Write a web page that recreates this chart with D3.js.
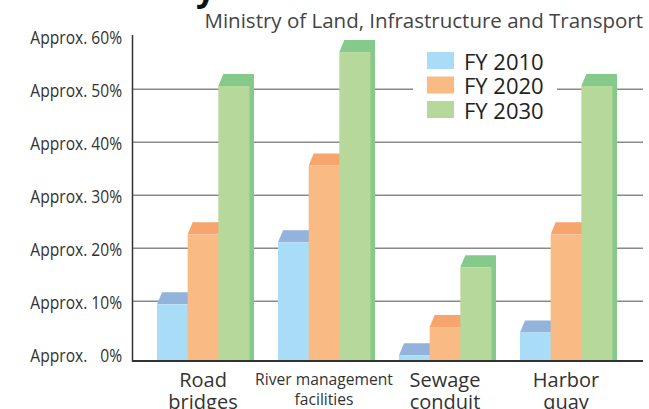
<!DOCTYPE html>
<html>
<head>
<meta charset="utf-8">
<script src="https://cdn.jsdelivr.net/npm/d3@7"></script>
<style>
  body { margin: 0; background: #fff; }
  svg { display: block; }
</style>
</head>
<body>
<script>
const categories = [["Road", "bridges"], ["River management", "facilities"], ["Sewage", "conduit"], ["Harbor", "quay"]];
const series = ["FY 2010", "FY 2020", "FY 2030"];
const values = [
  [10.6, 23.8, 51.8],
  [22.3, 36.8, 58.2],
  [1.0, 6.3, 17.6],
  [5.3, 23.8, 51.8]
];
const ticks = [0, 10, 20, 30, 40, 50, 60];

const front = ["#a9dcf7", "#f9ba84", "#b6d99b"];
const top_ = ["#93b3dc", "#f6a56d", "#85c98b"];

const svg = d3.select("body").append("svg")
  .attr("width", 649)
  .attr("height", 409);

const y = d3.scaleLinear().domain([0, 60]).range([354.3, 36.3]);
const base = 360.5; // bars sit on the axis, value = middle of top face
const half = base - y(0);

const x0 = d3.scaleBand().domain(d3.range(categories.length)).range([142.5, 626.5]);
const x1 = d3.scaleBand().domain(d3.range(series.length)).range([14.5, 106.5]);

// squeeze a text horizontally (condensed face look)
function squeeze(sel, k) {
  sel.each(function () {
    const w = this.getComputedTextLength();
    d3.select(this).attr("textLength", w * k).attr("lengthAdjust", "spacingAndGlyphs");
  });
}

// cut-off heading above
svg.append("text")
  .attr("x", 196).attr("y", 1)
  .attr("font-family", "Open Sans").attr("font-weight", "bold")
  .attr("font-size", 34).attr("fill", "#111")
  .text("y");

svg.append("text")
  .attr("x", 643).attr("y", 28)
  .attr("text-anchor", "end")
  .attr("font-family", "Open Sans").attr("font-size", 20.5)
  .attr("fill", "#444")
  .text("Ministry of Land, Infrastructure and Transport");

// gridlines
svg.append("g").selectAll("line")
  .data(ticks.filter(t => t > 0 && t < 60))
  .enter().append("line")
  .attr("x1", 132).attr("x2", 643)
  .attr("y1", d => y(d)).attr("y2", d => y(d))
  .attr("stroke", "#8a8a8a").attr("stroke-width", 1.5);

// y labels
const yAxis = d3.axisLeft(y).tickValues(ticks).tickSize(0).tickPadding(10)
  .tickFormat(d => "Approx. " + (d < 10 ? "\u2007" : "") + d + "%");
const ga = svg.append("g").attr("transform", "translate(132,1.5)").call(yAxis);
ga.select(".domain").remove();
ga.selectAll("text")
  .attr("font-family", "Open Sans")
  .attr("font-size", 19).attr("fill", "#333")
  .call(squeeze, 0.82);

// bars
const groups = svg.append("g").selectAll("g")
  .data(values).enter().append("g")
  .attr("transform", (d, i) => "translate(" + x0(i) + ",0)");

const bars = groups.selectAll("g")
  .data(d => d).enter().append("g");

const bw = x1.bandwidth();
const dx = 5, dy = 12;

bars.append("path")
  .attr("fill", (d, i) => top_[i])
  .attr("d", (d, i) => {
    const a = x1(i), b = a + bw, t = y(d) + half;
    return `M${a},${t}L${a + dx},${t - dy}L${b + dx},${t - dy}L${b + dx},${base}L${b},${base}L${b},${t}Z`;
  });

bars.append("rect")
  .attr("fill", (d, i) => front[i])
  .attr("x", (d, i) => x1(i))
  .attr("width", bw + 0.5)
  .attr("y", d => y(d) + half)
  .attr("height", d => base - (y(d) + half));

// axes lines
svg.append("line")
  .attr("x1", 132.5).attr("x2", 132.5).attr("y1", 35).attr("y2", base + 1)
  .attr("stroke", "#333").attr("stroke-width", 1.5);
svg.append("line")
  .attr("x1", 132).attr("x2", 643).attr("y1", base + 0.5).attr("y2", base + 0.5)
  .attr("stroke", "#333").attr("stroke-width", 2);

// legend
const lg = svg.append("g");
lg.append("rect")
  .attr("x", 413).attr("y", 46).attr("width", 144).attr("height", 78)
  .attr("fill", "#fff");
series.forEach((s, i) => {
  lg.append("rect")
    .attr("x", 427).attr("y", 52 + i * 24.5)
    .attr("width", 27).attr("height", 17)
    .attr("fill", front[i]);
  lg.append("text")
    .attr("x", 464).attr("y", 69.5 + i * 24.5)
    .attr("font-family", "Open Sans").attr("font-size", 22)
    .attr("fill", "#222")
    .text(s);
});

// x labels
const xl = svg.append("g").selectAll("text")
  .data(categories).enter().append("text")
  .attr("text-anchor", "middle")
  .attr("fill", "#333")
  .attr("font-family", "Open Sans")
  .attr("font-size", (d, i) => i === 1 ? 17 : 20)
  .attr("transform", (d, i) => "translate(" + (x0(i) + x0.bandwidth() / 2) + ",0)");

xl.selectAll("tspan")
  .data((d, i) => d.map(t => ({ t, narrow: i === 1 })))
  .enter().append("tspan")
  .attr("x", 0)
  .attr("y", (d, j) => d.narrow ? 385 + j * 20 : 387 + j * 22)
  .text(d => d.t);

xl.filter((d, i) => i === 1).selectAll("tspan").call(squeeze, 0.92);
</script>
</body>
</html>
